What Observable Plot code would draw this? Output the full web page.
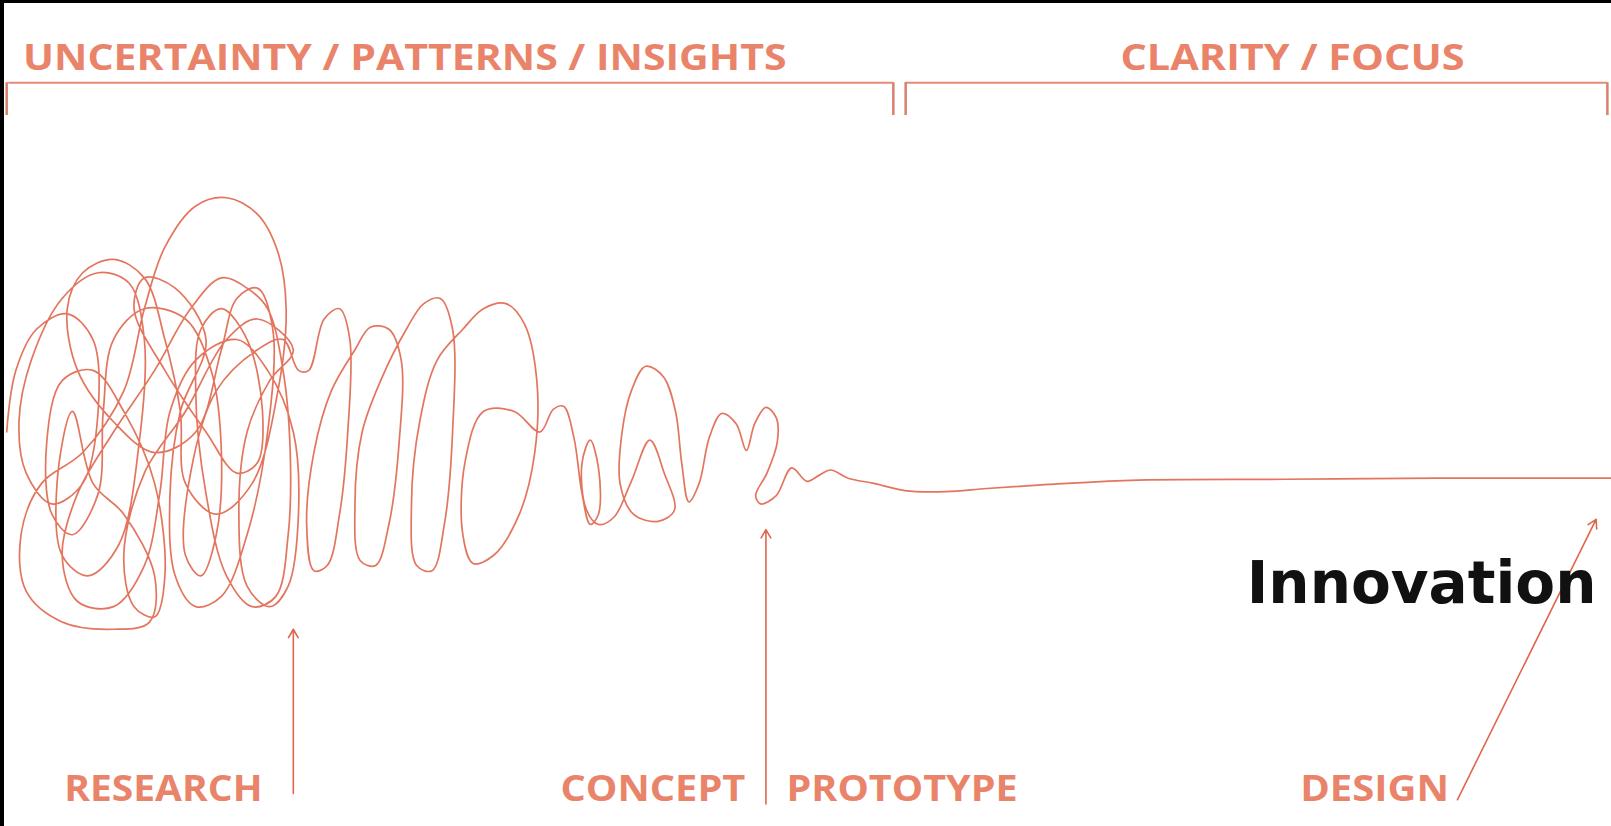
<!DOCTYPE html>
<html><head><meta charset="utf-8">
<script src="https://cdn.jsdelivr.net/npm/d3@7"></script>
<script src="https://cdn.jsdelivr.net/npm/@observablehq/plot@0.6"></script>
<style>
html,body{margin:0;padding:0;background:#000;overflow:hidden;width:1611px;height:826px}
#chart{position:absolute;left:4px;top:3px;width:1607px;height:823px;background:#fff}
svg{display:block}
</style></head><body><div id="chart"></div>
<script>
// Phase names over the top bracket
const phaseNames = ["UNCERTAINTY / PATTERNS / INSIGHTS", "CLARITY / FOCUS"];
// Stage names along the bottom
const stageNames = ["RESEARCH", "CONCEPT", "PROTOTYPE", "DESIGN"];
const titleText = ["Innovation"];

// The squiggle (progress units, uncertainty units)
const squiggle = [
  [6,420],[15,360],[35,320],[65,305],[90,330],[95,400],[80,470],[50,490],[25,460],[18,410],
  [30,350],[60,290],[95,265],[125,275],[140,330],[135,430],[115,530],[85,560],[60,540],[55,470],[70,400],
  [90,470],[120,500],[150,560],[145,605],[110,612],[60,605],[25,575],[20,520],[40,470],[80,440],
  [120,380],[140,300],[160,240],[190,200],[220,192],[250,208],[270,245],[278,300],[270,380],[245,470],[210,500],[180,470],[175,400],
  [160,330],[140,270],[110,252],[80,265],[65,300],[75,360],[110,410],[150,440],
  [190,420],[215,340],[230,290],[250,280],[265,320],[260,420],[240,520],[215,580],[190,590],[170,560],[165,480],[175,400],
  [200,330],[170,280],[140,270],[130,300],[160,360],[200,420],[230,460],[250,450],[255,400],
  [240,330],[215,300],[195,320],[190,380],[200,480],[220,560],[245,590],[268,580],[280,520],[282,440],[275,360],[260,300],
  [240,280],[215,270],[185,300],[150,360],[110,420],[75,480],[60,540],[75,585],[110,590],[140,550],[155,480],[165,400],
  [190,350],[230,330],[260,360],[285,420],[290,500],[280,570],[262,590],[240,570],[232,500],[240,420],[262,370],[285,340],
  [250,310],[220,330],[180,400],[140,460],[120,540],[130,590],[150,600],[160,560],[150,470],[120,400],[90,360],[60,370],
  [45,430],[50,500],[70,520],[95,480],[100,400],[110,330],[140,300],[180,310],[205,360],[215,440],[210,520],[195,560],
  [180,540],[185,460],[210,380],[250,340],[275,330],[290,360],
  [300,360],[315,310],[330,300],[340,330],[338,420],[330,500],[318,550],[305,555],[298,510],[305,440],[322,380],
  [345,340],[360,318],[378,320],[390,350],[388,430],[378,510],[365,550],[350,545],[345,490],[352,420],[370,370],
  [395,320],[412,295],[428,290],[440,320],[440,420],[432,510],[420,555],[405,550],[400,490],[408,410],[425,350],
  [450,320],[470,300],[492,295],[510,315],[522,370],[520,440],[505,500],[480,540],[460,548],[450,520],[452,450],[470,400],[500,400],[525,420],
  [538,398],[548,395],[558,425],[566,480],[574,510],[582,500],[582,455],[574,428],[566,450],[570,495],[582,510],[597,503],
  [614,468],[632,428],[646,460],[656,496],[640,507],[616,500],[603,470],[605,420],[614,380],[628,356],[645,366],[657,400],[663,450],[670,488],
  [680,470],[690,425],[702,402],[716,412],[726,438],
  [734,412],[745,396],[755,406],[756,430],[746,460],[735,482],[740,490],[755,482],[770,455],[785,468],[797,462],[808,457],[825,465],[850,470],[880,477],[920,478],[960,475],[1020,471],[1100,467],[1250,466],[1400,465],[1568,465]
];

// Bracket segments and ticks (phase extents)
const bracketSpans = [[8, 869], [881, 1564]];
const bracketTicks = [6, 869, 881, 1564];

// Stage markers: from label up to the squiggle
const stageArrows = [
  {x1: 285, y1: 772, x2: 285, y2: 612},
  {x1: 745, y1: 782, x2: 745, y2: 515},
  {x1: 1418, y1: 778, x2: 1553, y2: 505}
];

// label layout (display units)
const phaseStart = [22, 1090], phaseEnd = [765, 1425], phaseY = 57;
const stageStart = [62, 545, 765, 1265], stageEnd = [255, 725, 990, 1410], stageY = 768;

const red = "#e0664c";
const labelRed = "#e9846b";

const plot = Plot.plot({
  width: 1607, height: 823,
  marginTop: 0, marginRight: 0, marginBottom: 0, marginLeft: 0,
  x: {domain: [3.89, 1568], range: [0, 1607], axis: null},
  y: {domain: [2.92, 804], range: [0, 823], axis: null},
  style: {background: "white", overflow: "visible"},
  marks: [
    Plot.ruleY(bracketSpans, {y: 80, x1: d => d[0], x2: d => d[1], stroke: "#e58a74", strokeWidth: 2}),
    Plot.ruleX(bracketTicks, {x: d => d, y1: 80, y2: 112, stroke: "#d9806c", strokeWidth: 2.5}),
    Plot.line(squiggle, {x: d => d[0], y: d => d[1], curve: "catmull-rom", stroke: red, strokeWidth: 1.7, strokeOpacity: 0.9}),
    Plot.arrow(stageArrows, {x1: "x1", y1: "y1", x2: "x2", y2: "y2", stroke: red, strokeWidth: 1.6, headLength: 9}),
    Plot.text(phaseNames, {x: (d, i) => phaseStart[i], y: phaseY, text: d => d, textAnchor: "start",
      fontSize: 35, fontWeight: 700, fontFamily: "Open Sans", fill: labelRed}),
    Plot.text(stageNames, {x: (d, i) => stageStart[i], y: stageY, text: d => d, textAnchor: "start",
      fontSize: 35, fontWeight: 700, fontFamily: "Open Sans", fill: labelRed}),
    Plot.text(titleText, {x: 1213, y: 568, text: d => d, textAnchor: "start",
      fontSize: 58, fontWeight: 700, fontFamily: "DejaVu Sans", fill: "#111"})
  ]
});
document.getElementById("chart").appendChild(plot);

// stretch labels to their measured extents
const sx = plot.scale("x");
const lengths = new Map();
phaseNames.forEach((n, i) => lengths.set(n, sx.apply(phaseEnd[i]) - sx.apply(phaseStart[i])));
stageNames.forEach((n, i) => lengths.set(n, sx.apply(stageEnd[i]) - sx.apply(stageStart[i])));
plot.querySelectorAll("text").forEach(t => {
  const L = lengths.get(t.textContent);
  if (L) { t.setAttribute("textLength", L); t.setAttribute("lengthAdjust", "spacingAndGlyphs"); }
});
</script></body></html>
